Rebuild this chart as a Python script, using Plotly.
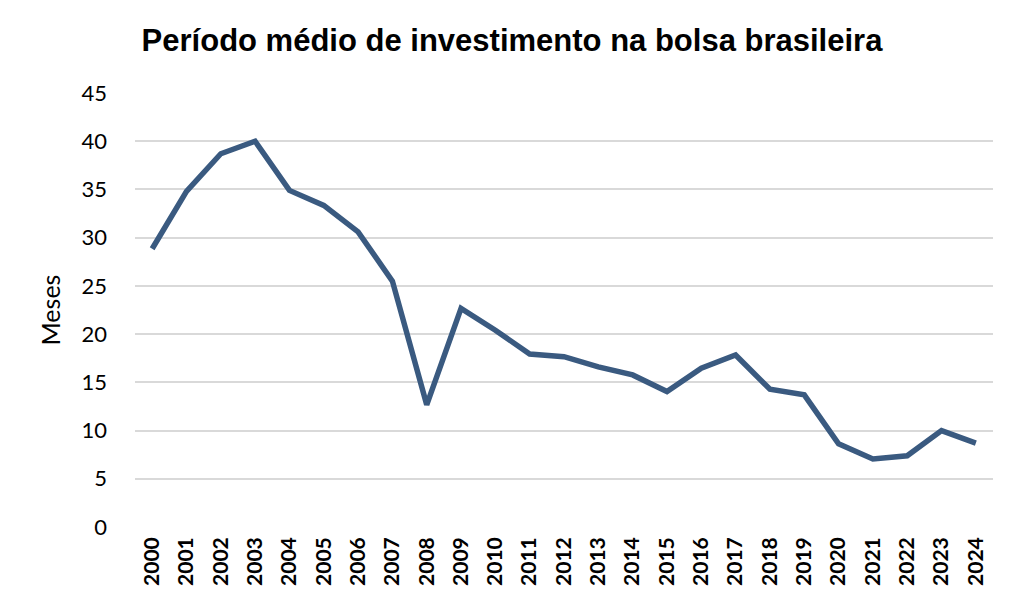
import plotly.graph_objects as go

years = [str(y) for y in range(2000, 2025)]
meses = [28.85, 34.8, 38.7, 40.0, 34.9, 33.35, 30.6, 25.5, 12.67, 22.67,
         20.4, 17.94, 17.66, 16.6, 15.77, 14.04, 16.46, 17.84, 14.29, 13.7,
         8.63, 7.05, 7.39, 10.0, 8.7]
y_ticks = [0, 5, 10, 15, 20, 25, 30, 35, 40, 45]

fig = go.Figure()
fig.add_trace(go.Scatter(
    x=years, y=meses, mode="lines",
    line=dict(color="#3A5A80", width=5.5),
    hoverinfo="x+y",
))

fig.update_layout(
    width=1024, height=614,
    margin=dict(l=135, r=31, t=93, b=87),
    paper_bgcolor="white", plot_bgcolor="white",
    showlegend=False,
    title=dict(
        text="<b>Período médio de investimento na bolsa brasileira</b>",
        font=dict(family="Liberation Sans, Arial, sans-serif", size=31, color="black"),
        x=0.5, xanchor="center", y=0.935, yanchor="middle",
    ),
    xaxis=dict(
        type="category",
        range=[-0.5, 24.5],
        tickangle=-90,
        tickfont=dict(family="Lato, sans-serif", size=21, color="black", weight="bold"),
        showgrid=False, showline=False, ticks="",
        ticklabelstandoff=5,
    ),
    yaxis=dict(
        range=[0, 45],
        tickvals=y_ticks,
        tickfont=dict(family="Lato, sans-serif", size=22, color="black"),
        showgrid=True, gridcolor="#D9D9D9", gridwidth=2,
        zeroline=False, showline=False, ticks="",
        ticklabelstandoff=27,
        title=dict(text="Meses", font=dict(family="Lato, sans-serif", size=25, color="black"), standoff=13),
    ),
)

fig.write_html("out.html")
